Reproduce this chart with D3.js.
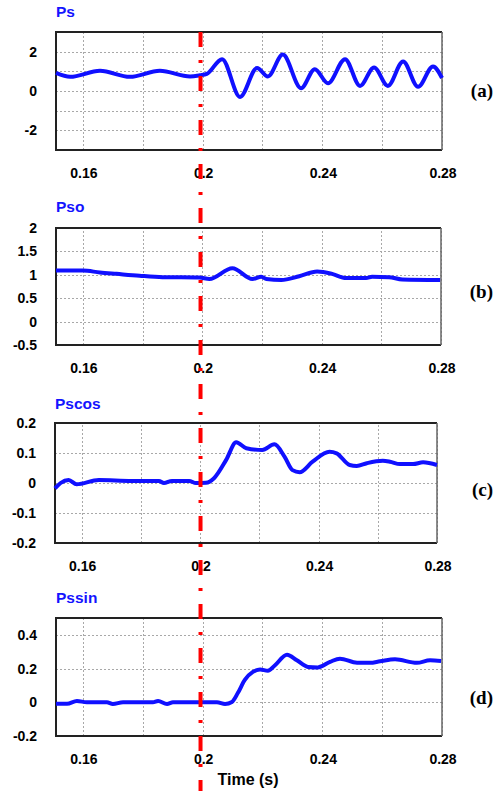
<!DOCTYPE html>
<html lang="en">
<head>
    <meta charset="UTF-8">
    <title>Ps / Pso / Pscos / Pssin</title>
    <style>
        body { margin: 0; background: #fff; }
        svg { display: block; }
        .grid line { stroke: #a8a8a8; stroke-width: 1; stroke-dasharray: 2,2; shape-rendering: crispEdges; }
        .grid path { display: none; }
        .tick-label { font-family: "Liberation Sans", Arial, sans-serif; font-weight: bold; font-size: 14px; fill: #000; }
        .title { font-family: "Liberation Sans", Arial, sans-serif; font-weight: bold; font-size: 15.5px; fill: #1414ff; }
        .tag { font-family: "Liberation Serif", "Times New Roman", serif; font-weight: bold; font-size: 19px; fill: #000; }
        .signal { fill: none; stroke: #1010ff; stroke-width: 4; stroke-linejoin: round; }
    </style>
    <script src="https://d3js.org/d3.v7.min.js"></script>
</head>
<body>
    <svg width="495" height="791"></svg>

    <script>
        // time axis (s)
        const xDomain = [0.151, 0.28];
        const xTickLabels = [0.16, 0.2, 0.24, 0.28];
        const xGridValues = [0.16, 0.18, 0.2, 0.22, 0.24, 0.26, 0.28];
        const faultTime = 0.1993;

        // (a) Ps
        const psTime = [0.151, 0.1557, 0.1657, 0.1757, 0.1857, 0.1958, 0.1991, 0.2014, 0.2065, 0.2125,
            0.2182, 0.2218, 0.2268, 0.2329, 0.2375, 0.2419, 0.2476, 0.2526, 0.2573, 0.2619,
            0.2670, 0.2720, 0.2770, 0.2800];
        const psValues = [0.92, 0.72, 1.03, 0.72, 1.03, 0.74, 0.80, 0.87, 1.62, -0.30,
            1.17, 0.74, 1.85, 0.14, 1.11, 0.39, 1.62, 0.26, 1.20, 0.26,
            1.50, 0.21, 1.25, 0.66];
        const psTicks = [-2, 0, 2];
        const psGrid = [-2, -1, 0, 1, 2];

        // (b) Pso
        const psoTime = [0.151, 0.160, 0.1657, 0.1713, 0.1790, 0.1867, 0.1991, 0.2024, 0.2101, 0.2168,
            0.2198, 0.2215, 0.2265, 0.2325, 0.2385, 0.2435, 0.2482, 0.2549, 0.2569, 0.2626,
            0.2670, 0.2797];
        const psoValues = [1.09, 1.09, 1.05, 1.02, 0.98, 0.95, 0.94, 0.91, 1.14, 0.91,
            0.96, 0.91, 0.89, 0.97, 1.07, 1.02, 0.93, 0.93, 0.96, 0.95,
            0.90, 0.89];
        const psoTicks = [-0.5, 0, 0.5, 1, 1.5, 2];
        const psoGrid = [0, 0.5, 1, 1.5];

        // (c) Pscos
        const pscosTime = [0.151, 0.1529, 0.1556, 0.1583, 0.1658, 0.1769, 0.1861, 0.1878, 0.1905, 0.1963,
            0.1986, 0.2020, 0.2047, 0.2088, 0.2122, 0.2156, 0.2210, 0.2251, 0.2285, 0.2312,
            0.2336, 0.2380, 0.2437, 0.2461, 0.2505, 0.2529, 0.2563, 0.2617, 0.2641, 0.2675,
            0.2719, 0.2753, 0.2800];
        const pscosValues = [-0.018, 0.0, 0.01, -0.004, 0.01, 0.007, 0.007, 0.0, 0.007, 0.007,
            0.0, 0.001, 0.016, 0.077, 0.136, 0.116, 0.11, 0.129, 0.088, 0.043,
            0.036, 0.071, 0.104, 0.099, 0.06, 0.057, 0.066, 0.074, 0.071, 0.063,
            0.063, 0.069, 0.06];
        const pscosTicks = [-0.2, -0.1, 0, 0.1, 0.2];
        const pscosGrid = [-0.1, 0, 0.1];

        // (d) Pssin
        const pssinTime = [0.151, 0.1547, 0.1580, 0.1613, 0.1680, 0.1700, 0.1734, 0.1834, 0.1851, 0.1881,
            0.1901, 0.1991, 0.2048, 0.2075, 0.2098, 0.2118, 0.2141, 0.2168, 0.2192, 0.2218,
            0.2242, 0.2282, 0.2315, 0.2352, 0.2385, 0.2426, 0.2459, 0.2516, 0.2559, 0.2593,
            0.2643, 0.2716, 0.2760, 0.2797];
        const pssinValues = [-0.008, -0.008, 0.008, 0.0, 0.0, -0.01, 0.0, 0.0, 0.008, -0.01,
            0.0, 0.0, 0.0, -0.01, 0.002, 0.056, 0.133, 0.18, 0.195, 0.187,
            0.22, 0.282, 0.249, 0.21, 0.207, 0.24, 0.259, 0.234, 0.234, 0.243,
            0.255, 0.234, 0.249, 0.245];
        const pssinTicks = [-0.2, 0, 0.2, 0.4];
        const pssinGrid = [0, 0.2, 0.4];

        const panels = [
            {title: "Ps", tag: "(a)", time: psTime, values: psValues, yDomain: [-3, 3], ticks: psTicks, grid: psGrid,
             left: 56, right: 442, top: 32, bottom: 150, titleY: 17, tagY: 97},
            {title: "Pso", tag: "(b)", time: psoTime, values: psoValues, yDomain: [-0.5, 2], ticks: psoTicks, grid: psoGrid,
             left: 56, right: 441, top: 228, bottom: 345, titleY: 212, tagY: 298},
            {title: "Pscos", tag: "(c)", time: pscosTime, values: pscosValues, yDomain: [-0.2, 0.2], ticks: pscosTicks, grid: pscosGrid,
             left: 55, right: 437, top: 423, bottom: 543, titleY: 409, tagY: 496},
            {title: "Pssin", tag: "(d)", time: pssinTime, values: pssinValues, yDomain: [-0.2, 0.5], ticks: pssinTicks, grid: pssinGrid,
             left: 56, right: 442, top: 618, bottom: 736, titleY: 603, tagY: 704}
        ];

        const svg = d3.select("svg");
        const fmt = d => String(d);

        panels.forEach(p => {
            const x = d3.scaleLinear().domain(xDomain).range([p.left, p.right]);
            const y = d3.scaleLinear().domain(p.yDomain).range([p.bottom, p.top]);
            const g = svg.append("g");
            const w = p.right - p.left, h = p.bottom - p.top;

            // dotted grid
            g.append("g").attr("class", "grid")
                .attr("transform", "translate(0," + p.bottom + ")")
                .call(d3.axisBottom(x).tickValues(xGridValues).tickSize(-h).tickFormat(""));
            g.append("g").attr("class", "grid")
                .attr("transform", "translate(" + p.left + ",0)")
                .call(d3.axisLeft(y).tickValues(p.grid).tickSize(-w).tickFormat(""));

            // frame
            g.append("path")
                .attr("d", `M${p.right},${p.top}H${p.left}V${p.bottom}H${p.right}`)
                .attr("fill", "none").attr("stroke", "#222").attr("stroke-width", 2);
            g.append("line")
                .attr("x1", p.right).attr("x2", p.right).attr("y1", p.top).attr("y2", p.bottom)
                .attr("stroke", "#666").attr("stroke-width", 1.5);

            // tick labels
            g.selectAll(".ylab").data(p.ticks).join("text")
                .attr("class", "tick-label")
                .attr("x", p.left - 19).attr("y", d => y(d)).attr("dy", "0.36em")
                .attr("text-anchor", "end").text(fmt);
            g.selectAll(".xlab").data(xTickLabels).join("text")
                .attr("class", "tick-label")
                .attr("x", d => x(d) + 1).attr("y", p.bottom + 28)
                .attr("text-anchor", "middle").text(fmt);

            // signal
            const line = d3.line()
                .x((d, i) => x(p.time[i]))
                .y(d => y(d))
                .curve(d3.curveMonotoneX);
            g.append("path").datum(p.values).attr("class", "signal").attr("d", line);

            g.append("text").attr("class", "title").attr("x", p.left).attr("y", p.titleY).text(p.title);
            g.append("text").attr("class", "tag").attr("x", 493).attr("y", p.tagY)
                .attr("text-anchor", "end").text(p.tag);
            p.x = x;
        });

        // fault instant marker through all panels
        const xf = panels[0].x(faultTime);
        svg.append("line")
            .attr("x1", xf).attr("x2", xf)
            .attr("y1", panels[0].top).attr("y2", 791)
            .attr("stroke", "#ff0000").attr("stroke-width", 4)
            .attr("stroke-dasharray", "15,13,3,13");

        svg.append("text").attr("class", "tick-label")
            .attr("x", 248).attr("y", 785)
            .attr("text-anchor", "middle").style("font-size", "16px")
            .text("Time (s)");
    </script>
</body>
</html>
